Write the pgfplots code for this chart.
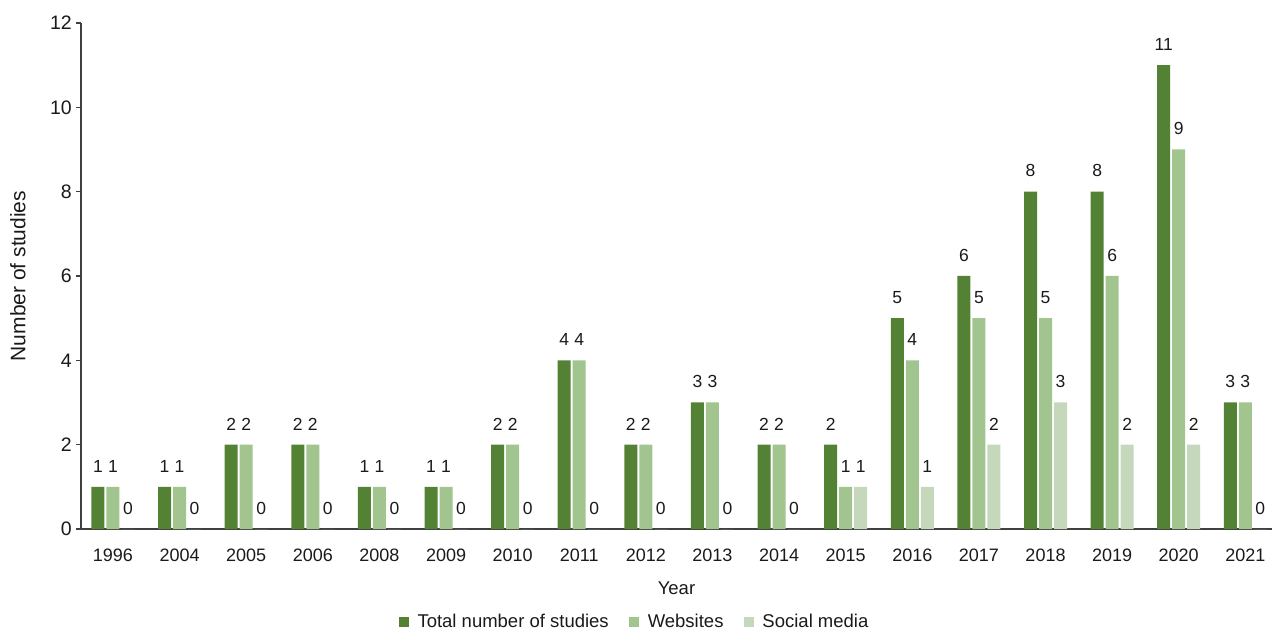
\documentclass[border=0pt]{standalone}
\usepackage{fontspec}
\setmainfont{Liberation Sans}
\usepackage{pgfplots}
\pgfplotsset{compat=1.18}
\definecolor{cA}{HTML}{548235}
\definecolor{cB}{HTML}{A2C48F}
\definecolor{cC}{HTML}{C5D8BB}
\definecolor{axc}{HTML}{404040}
\definecolor{txt}{HTML}{1A1A1A}
\pgfplotstableread{
x total web social
0 1 1 0
1 1 1 0
2 2 2 0
3 2 2 0
4 1 1 0
5 1 1 0
6 2 2 0
7 4 4 0
8 2 2 0
9 3 3 0
10 2 2 0
11 2 1 1
12 5 4 1
13 6 5 2
14 8 5 3
15 8 6 2
16 11 9 2
17 3 3 0
}\datatable
\begin{document}
\fontsize{16bp}{19bp}\selectfont
\begin{tikzpicture}
\path[use as bounding box] (-81bp,-103bp) rectangle (1191bp,529bp);
\begin{axis}[
  at={(0,0)}, anchor=south west,
  scale only axis, width=1191bp, height=506bp,
  ybar=2bp, bar width=13bp,
  xmin=-0.48, xmax=17.4, ymin=0, ymax=12,
  enlargelimits=false,
  xtick={0,...,17},
  xticklabels={1996,2004,2005,2006,2008,2009,2010,2011,2012,2013,2014,2015,2016,2017,2018,2019,2020,2021},
  ytick={0,2,...,12},
  axis x line*=bottom, axis y line*=left,
  axis line style={draw=axc, line width=1.2bp, -},
  tick align=outside, major tick length=5bp,
  x tick style={draw=none},
  y tick style={draw=axc, line width=1.2bp},
  /pgf/number format/assume math mode=true,
  xticklabel style={font=\fontsize{18bp}{21bp}\selectfont, text=txt, yshift=-9bp},
  yticklabel style={font=\fontsize{19.5bp}{23bp}\selectfont, text=txt, inner sep=0pt, xshift=-4bp},
  xlabel={Year},
  xlabel style={at={(axis description cs:0.5,-0.1166)}, anchor=center, font=\fontsize{18.5bp}{22bp}\selectfont, text=txt},
  ylabel={Number of studies},
  ylabel style={at={(axis description cs:-0.0529,0.5)}, anchor=center, font=\fontsize{21bp}{25bp}\selectfont, text=txt},
  nodes near coords,
  every node near coord/.append style={font=\fontsize{17.5bp}{21bp}\selectfont, text=txt, anchor=south, yshift=9bp},
  legend columns=3,
  legend style={at={(0.4647,-0.1838)}, anchor=center, draw=none, fill=none,
    font=\fontsize{18.5bp}{22bp}\selectfont, text=txt,
    /tikz/every odd column/.append style={column sep=7bp},
    /tikz/every even column/.append style={column sep=18bp}},
  legend image code/.code={\fill[#1] (0bp,-5bp) rectangle (10bp,5bp);},
]
\addplot[fill=cA, draw=none] table[x=x, y=total] {\datatable};
\addplot[fill=cB, draw=none] table[x=x, y=web] {\datatable};
\addplot[fill=cC, draw=none] table[x=x, y=social] {\datatable};
\legend{Total number of studies, Websites, Social media}
\end{axis}
\end{tikzpicture}
\end{document}
